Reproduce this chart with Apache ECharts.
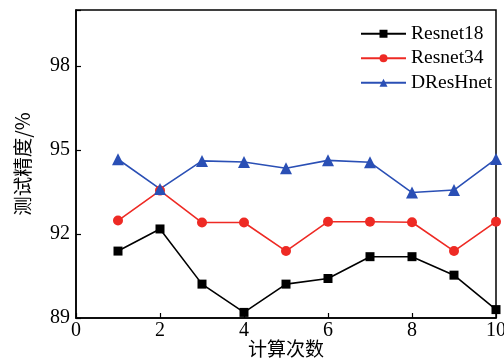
<!DOCTYPE html>
<html>
<head>
<meta charset="utf-8">
<script src="https://cdn.jsdelivr.net/npm/echarts@6/dist/echarts.min.js"></script>
<style>
  html, body { margin: 0; padding: 0; background: #fff; }
  #chart { width: 504px; height: 363px; }
</style>
</head>
<body>
<div id="chart"></div>
<script>
// Test accuracy (%) over ten runs for three networks
const runs = [1, 2, 3, 4, 5, 6, 7, 8, 9, 10];
const resnet18 = [91.39, 92.18, 90.21, 89.20, 90.21, 90.41, 91.19, 91.19, 90.53, 89.30];
const resnet34 = [92.48, 93.55, 92.41, 92.41, 91.39, 92.44, 92.44, 92.42, 91.39, 92.44];
const dreshnet = [94.67, 93.61, 94.61, 94.57, 94.35, 94.63, 94.56, 93.48, 93.57, 94.68];
const seriesNames = ['Resnet18', 'Resnet34', 'DResHnet'];
const xTicks = [0, 2, 4, 6, 8, 10];
const yTicks = [89, 92, 95, 98];

const serif = '"Liberation Serif", "Noto Sans CJK SC", serif';
const pair = (vals) => runs.map((r, i) => [r, vals[i]]);

const chart = echarts.init(document.getElementById('chart'));
chart.setOption({
  animation: false,
  backgroundColor: '#fff',
  grid: {
    left: 76, right: 8, top: 10, bottom: 45,
    outerBoundsMode: 'none',
    containLabel: false,
    show: true, borderColor: '#000', borderWidth: 1.5
  },
  legend: {
    orient: 'vertical',
    left: 360, top: 24, padding: 0,
    itemWidth: 45, itemHeight: 10, itemGap: 5,
    textStyle: { fontFamily: serif, fontSize: 19.5, color: '#000' },
    data: seriesNames
  },
  xAxis: {
    type: 'value',
    min: xTicks[0], max: xTicks[xTicks.length - 1], interval: 2,
    name: '计算次数',
    nameLocation: 'middle', nameGap: 21, nameMoveOverlap: false,
    nameTextStyle: { fontFamily: '"Noto Sans CJK SC", sans-serif', fontSize: 19, color: '#000' },
    axisLine: { lineStyle: { color: '#000', width: 1.5 } },
    axisTick: { inside: true, length: 5, lineStyle: { color: '#000', width: 1.2 } },
    axisLabel: { fontFamily: serif, fontSize: 20, color: '#000', margin: 3 },
    splitLine: { show: false }
  },
  yAxis: {
    type: 'value',
    min: 89, max: 100, interval: 3,
    name: '测试精度/%',
    nameLocation: 'middle', nameGap: 44, nameRotate: 90, nameMoveOverlap: false,
    nameTextStyle: { fontFamily: '"Noto Sans CJK SC", sans-serif', fontSize: 19.5, color: '#000' },
    axisLine: { lineStyle: { color: '#000', width: 1.5 } },
    axisTick: { inside: true, length: 5, lineStyle: { color: '#000', width: 1.2 } },
    axisLabel: {
      fontFamily: serif, fontSize: 20, color: '#000', margin: 6,
      formatter: (v) => (yTicks.indexOf(v) >= 0 ? String(v) : '')
    },
    splitLine: { show: false }
  },
  series: [
    {
      name: seriesNames[0], type: 'line', data: pair(resnet18),
      symbol: 'rect', symbolSize: 9,
      itemStyle: { color: '#000' }, lineStyle: { color: '#000', width: 1.6 }
    },
    {
      name: seriesNames[1], type: 'line', data: pair(resnet34),
      symbol: 'circle', symbolSize: 10,
      itemStyle: { color: '#ee2a24' }, lineStyle: { color: '#ee2a24', width: 1.6 }
    },
    {
      name: seriesNames[2], type: 'line', data: pair(dreshnet),
      symbol: 'triangle', symbolSize: 12,
      itemStyle: { color: '#2a4fb5' }, lineStyle: { color: '#2a4fb5', width: 1.6 }
    }
  ]
});
</script>
</body>
</html>
